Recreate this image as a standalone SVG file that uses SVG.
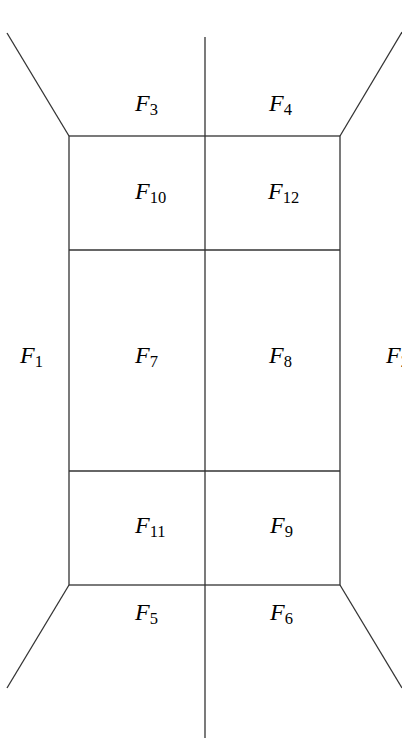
<svg xmlns="http://www.w3.org/2000/svg" width="402" height="740" viewBox="0 0 402 740">
<style>
.e{stroke:#333;stroke-width:1.3;fill:none}
.l{font-family:"Liberation Serif",serif;font-style:italic;font-size:24px;fill:#000}
.s{font-style:normal;font-size:16.5px}
</style>
<rect width="402" height="740" fill="#fff"/>
<g id="connectors">
<line class="e" x1="7" y1="33" x2="69" y2="136"/>
<line class="e" x1="402" y1="32" x2="340" y2="136"/>
<line class="e" x1="69" y1="585" x2="7" y2="688"/>
<line class="e" x1="340" y1="585" x2="402" y2="688"/>
<line class="e" x1="205" y1="37" x2="205" y2="738"/>
<rect class="e" x="69" y="136" width="271" height="449"/>
<line class="e" x1="69" y1="250" x2="340" y2="250"/>
<line class="e" x1="69" y1="471" x2="340" y2="471"/>
</g>
<g id="F1"><text class="l" x="20" y="363">F<tspan class="s" dy="4">1</tspan></text></g>
<g id="F2"><text class="l" x="386" y="363">F<tspan class="s" dy="4">2</tspan></text></g>
<g id="F3"><text class="l" x="135" y="111">F<tspan class="s" dy="4">3</tspan></text></g>
<g id="F4"><text class="l" x="269" y="111">F<tspan class="s" dy="4">4</tspan></text></g>
<g id="F5"><text class="l" x="135" y="620">F<tspan class="s" dy="4">5</tspan></text></g>
<g id="F6"><text class="l" x="270" y="620">F<tspan class="s" dy="4">6</tspan></text></g>
<g id="F7"><text class="l" x="135" y="363">F<tspan class="s" dy="4">7</tspan></text></g>
<g id="F8"><text class="l" x="269" y="363">F<tspan class="s" dy="4">8</tspan></text></g>
<g id="F9"><text class="l" x="270" y="533">F<tspan class="s" dy="4">9</tspan></text></g>
<g id="F10"><text class="l" x="135" y="199">F<tspan class="s" dy="4">10</tspan></text></g>
<g id="F11"><text class="l" x="135" y="533">F<tspan class="s" dy="4">11</tspan></text></g>
<g id="F12"><text class="l" x="268" y="199">F<tspan class="s" dy="4">12</tspan></text></g>
</svg>
